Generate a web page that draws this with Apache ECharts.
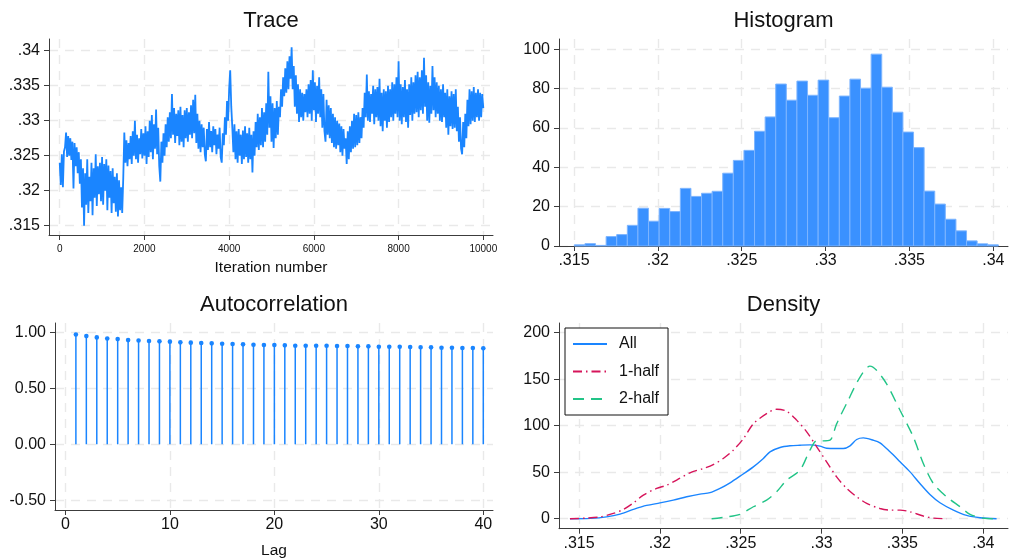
<!DOCTYPE html>
<html><head><meta charset="utf-8">
<script src="https://cdn.jsdelivr.net/npm/echarts@6/dist/echarts.min.js"></script>
<style>html,body{margin:0;padding:0;background:#fff}#c{width:1009px;height:560px}</style>
</head><body><div id="c"></div>
<script>
// ---------- DATA ----------
const traceStep = 25; // iterations between stored draws
const traceValues = [
.3240,.3208,.3252,.3205,.3256,.3262,.3283,.3248,.3278,.3250,.3275,.3244,.3270,.3203,.3268,.3235,.3262,.3225,.3255,.3210,
.3245,.3176,.3232,.3150,.3225,.3180,.3245,.3168,.3220,.3185,.3240,.3165,.3232,.3190,.3252,.3178,.3235,.3195,.3240,.3185,
.3248,.3180,.3238,.3200,.3245,.3172,.3236,.3190,.3228,.3168,.3232,.3182,.3220,.3170,.3225,.3163,.3215,.3172,.3205,.3168,
.3218,.3283,.3240,.3272,.3235,.3268,.3245,.3278,.3238,.3285,.3250,.3300,.3245,.3280,.3240,.3275,.3252,.3288,.3246,.3282,
.3250,.3292,.3238,.3285,.3248,.3300,.3255,.3308,.3245,.3295,.3260,.3316,.3252,.3290,.3235,.3213,.3270,.3240,.3282,.3250,
.3295,.3262,.3305,.3270,.3312,.3275,.3338,.3280,.3318,.3268,.3310,.3278,.3315,.3265,.3320,.3270,.3308,.3262,.3315,.3275,
.3318,.3270,.3312,.3280,.3322,.3275,.3330,.3282,.3337,.3268,.3310,.3260,.3300,.3255,.3295,.3262,.3290,.3252,.3242,.3288,
.3258,.3298,.3262,.3285,.3255,.3292,.3265,.3288,.3252,.3280,.3260,.3290,.3248,.3240,.3282,.3265,.3305,.3280,.3328,.3300,
.3345,.3372,.3320,.3290,.3255,.3295,.3245,.3285,.3240,.3288,.3250,.3280,.3238,.3286,.3245,.3292,.3248,.3282,.3240,.3290,
.3245,.3280,.3226,.3285,.3250,.3298,.3262,.3310,.3258,.3305,.3265,.3318,.3262,.3312,.3270,.3325,.3280,.3370,.3290,.3335,
.3270,.3325,.3261,.3318,.3275,.3328,.3280,.3320,.3305,.3345,.3320,.3362,.3335,.3375,.3340,.3385,.3345,.3392,.3360,.3405,
.3345,.3378,.3320,.3365,.3310,.3352,.3298,.3345,.3305,.3340,.3300,.3338,.3312,.3345,.3305,.3352,.3310,.3358,.3300,.3372,
.3315,.3355,.3298,.3350,.3310,.3362,.3305,.3345,.3290,.3338,.3285,.3270,.3330,.3280,.3322,.3275,.3318,.3268,.3310,.3262,
.3305,.3260,.3300,.3265,.3296,.3255,.3292,.3250,.3288,.3260,.3275,.3238,.3285,.3245,.3292,.3255,.3300,.3260,.3310,.3262,
.3308,.3265,.3312,.3268,.3305,.3275,.3318,.3290,.3340,.3305,.3366,.3300,.3342,.3298,.3338,.3310,.3350,.3295,.3345,.3305,
.3348,.3300,.3360,.3292,.3340,.3285,.3345,.3300,.3342,.3290,.3350,.3298,.3345,.3305,.3355,.3300,.3352,.3310,.3362,.3305,
.3385,.3300,.3352,.3295,.3348,.3305,.3358,.3298,.3345,.3290,.3352,.3308,.3362,.3300,.3355,.3310,.3365,.3312,.3370,.3305,
.3362,.3315,.3372,.3310,.3390,.3320,.3365,.3300,.3355,.3297,.3350,.3310,.3378,.3315,.3362,.3305,.3355,.3310,.3350,.3300,
.3345,.3298,.3352,.3305,.3340,.3290,.3345,.3280,.3335,.3292,.3342,.3288,.3338,.3290,.3345,.3285,.3320,.3270,.3305,.3260,
.3252,.3298,.3262,.3310,.3275,.3330,.3292,.3345,.3295,.3342,.3300,.3348,.3298,.3340,.3305,.3345,.3300,.3340,.3305,.3338,
.3318
];
const traceXTicks = [0, 2000, 4000, 6000, 8000, 10000];
const traceYTicks = [.315, .32, .325, .33, .335, .34];

const histStart = .31502;
const histBinWidth = .000632;
const histDensity = [0.6,1.2,0.3,4.8,5.8,10.5,19.2,12.6,19.1,17.5,29.3,25.2,26.8,27.8,37.0,43.5,48.6,58.3,65.6,82.3,
74.1,83.8,76.6,84.3,65.2,76.2,84.8,80.2,97.5,80.7,68.0,57.9,50.0,27.9,21.3,13.6,7.7,2.6,1.1,0.6];
const histXTicks = [.315, .32, .325, .33, .335, .34];
const histYTicks = [0, 20, 40, 60, 80, 100];

const acfLags = [1,2,3,4,5,6,7,8,9,10,11,12,13,14,15,16,17,18,19,20,21,22,23,24,25,26,27,28,29,30,31,32,33,34,35,36,37,38,39,40];
const acfValues = [.982,.968,.956,.947,.941,.932,.929,.924,.921,.918,.912,.909,.906,.903,.900,.897,.894,.891,.888,.888,
.885,.882,.882,.882,.881,.879,.879,.876,.876,.873,.873,.872,.870,.868,.867,.864,.864,.862,.861,.859];
const acfXTicks = [0, 10, 20, 30, 40];
const acfYTicks = [-0.5, 0, 0.5, 1];

const densAll = [[.31444,0],[.3157,0.4],[.3167,2],[.31754,5],[.31836,10],[.31918,14.3],[.32001,17],[.32083,20],[.32166,23.6],
[.32248,26.5],[.3231,28],[.32372,32.6],[.32434,38.6],[.32496,45.8],[.32578,55.8],[.3264,64.8],[.32681,71.9],[.32743,76.6],
[.32805,78.4],[.32866,79],[.32928,79.4],[.3299,78],[.33031,75.8],[.33093,75.5],[.33134,75.5],[.33176,78.4],[.33217,85.2],
[.33258,86.9],[.3332,84.4],[.33361,81.6],[.33423,71.9],[.33485,61.2],[.33547,50.4],[.33608,37.9],[.3367,26.1],[.33732,17.2],
[.33815,9.3],[.33897,3.6],[.3398,1.1],[.34082,0]];
const densHalf1 = [[.31444,0],[.31547,0.7],[.3163,2],[.31712,5.7],[.31774,10],[.31836,17],[.31898,25.4],[.3198,32.6],[.32042,36],
[.32104,41.5],[.32186,49.4],[.32268,54],[.3233,58.3],[.32392,64.8],[.32454,73.7],[.32516,86],[.32578,102],[.3266,113],
[.32722,117.7],[.32784,115.6],[.32846,106],[.32908,93.4],[.3297,77.3],[.33031,61.2],[.33093,45],[.33155,32.6],[.33217,23.6],
[.33279,16.5],[.33361,11],[.33423,9.3],[.33485,9.3],[.33547,7.5],[.33629,2.9],[.33691,0.7],[.33773,0]];
const densHalf2 = [[.3232,0],[.32413,2],[.32495,4.7],[.32578,12.9],[.3266,20],[.32722,29],[.32784,41.5],[.32866,52.2],[.32928,73.7],
[.3297,83.7],[.3301,83.7],[.33052,84.4],[.33093,102],[.33155,124],[.33237,152],[.33299,164],[.3334,159.5],[.33402,145],
[.33485,116.6],[.33567,88],[.33629,59.4],[.33691,37.9],[.33773,23.6],[.33856,12.9],[.33918,4.7],[.34,0.7],[.34082,0]];
const densXTicks = [.315, .32, .325, .33, .335, .34];
const densYTicks = [0, 50, 100, 150, 200];

const titles = ['Trace', 'Histogram', 'Autocorrelation', 'Density'];
const seriesNames = ['All', '1-half', '2-half'];

// ---------- STYLE / BUILD ----------
const FONT = '"Liberation Sans", Arial, Helvetica, sans-serif';
const BLUE = '#1a85ff', RED = '#d6145a', GREEN = '#22c487';
const AXC = '#3c3c3c';
const dot = v => String(v).replace(/^0\./, '.').replace(/^-0\./, '-.');

function axis(o) {
  return {
    type: 'value', gridIndex: o.g, min: o.min, max: o.max, position: o.pos,
    axisLine: { show: true, onZero: false, lineStyle: { color: AXC, width: 1 } },
    axisTick: { show: true, length: 5, inside: false, customValues: o.ticks, lineStyle: { color: AXC, width: 1 } },
    axisLabel: { show: true, customValues: o.ticks, formatter: o.fmt, fontSize: o.fs, color: '#111',
      margin: o.margin, fontFamily: FONT, hideOverlap: false },
    splitLine: { show: true, lineStyle: { color: '#e9e9e9', width: 1.4, type: [9, 7] } },
    name: o.name || '', nameLocation: 'middle', nameGap: o.nameGap || 0,
    nameTextStyle: { fontSize: 15.5, color: '#111', fontFamily: FONT }
  };
}

const traceData = traceValues.map((v, i) => [i * traceStep, v]);
const histData = histDensity.map((h, i) => [histStart + i * histBinWidth, histStart + (i + 1) * histBinWidth, h]);
const acfData = acfLags.map((l, i) => [l, acfValues[i]]);

const option = {
  backgroundColor: '#fff',
  animation: false,
  textStyle: { fontFamily: FONT },
  grid: [
    { left: 49, top: 39, width: 444, height: 196 },
    { left: 559, top: 39, width: 449, height: 207 },
    { left: 55, top: 323, width: 438, height: 189.5 },
    { left: 559, top: 323, width: 449, height: 205.7 }
  ],
  xAxis: [
    axis({ g: 0, pos: 'bottom', min: -253, max: 10229, ticks: traceXTicks, fmt: v => String(v), fs: 10, margin: 9, name: 'Iteration number', nameGap: 25 }),
    axis({ g: 1, pos: 'bottom', min: .314106, max: .340876, ticks: histXTicks, fmt: dot, fs: 16, margin: 7 }),
    axis({ g: 2, pos: 'bottom', min: -1.0, max: 40.93, ticks: acfXTicks, fmt: v => String(v), fs: 16, margin: 7, name: 'Lag', nameGap: 33 }),
    axis({ g: 3, pos: 'bottom', min: .313763, max: .341527, ticks: densXTicks, fmt: dot, fs: 16, margin: 7 })
  ],
  yAxis: [
    axis({ g: 0, pos: 'left', min: .313667, max: .341667, ticks: traceYTicks, fmt: dot, fs: 16, margin: 9 }),
    axis({ g: 1, pos: 'left', min: 0, max: 105.2, ticks: histYTicks, fmt: v => String(v), fs: 16, margin: 9 }),
    axis({ g: 2, pos: 'left', min: -0.588, max: 1.085, ticks: acfYTicks, fmt: v => v.toFixed(2), fs: 16, margin: 9 }),
    axis({ g: 3, pos: 'left', min: -10.7, max: 210.4, ticks: densYTicks, fmt: v => String(v), fs: 16, margin: 9 })
  ],
  legend: {
    data: seriesNames, orient: 'vertical', left: 565, top: 328,
    itemWidth: 34, itemHeight: 14, itemGap: 11.5, padding: [8, 9, 8, 7],
    borderColor: '#111', borderWidth: 1, borderRadius: 0, backgroundColor: '#fff',
    itemStyle: { opacity: 0, borderWidth: 0 },
    textStyle: { fontSize: 16, color: '#111', fontFamily: FONT, padding: [0, 0, 0, 7] },
    selectedMode: false
  },
  graphic: titles.map((t, i) => ({
    type: 'text', x: [271, 783.5, 274, 783.5][i], y: [21, 21, 305, 305][i],
    style: { text: t, fill: '#111', font: '22px ' + FONT, textAlign: 'center', textVerticalAlign: 'middle' }
  })),
  series: [
    { type: 'line', xAxisIndex: 0, yAxisIndex: 0, data: traceData, symbol: 'none',
      lineStyle: { color: BLUE, width: 1.8 }, silent: true },
    { type: 'custom', xAxisIndex: 1, yAxisIndex: 1, data: histData, silent: true,
      renderItem: function (params, api) {
        const p0 = api.coord([api.value(0), api.value(2)]);
        const p1 = api.coord([api.value(1), 0]);
        return { type: 'rect', shape: { x: p0[0], y: p0[1], width: p1[0] - p0[0], height: p1[1] - p0[1] },
          style: { fill: '#3a91ff', stroke: '#7db5ff', lineWidth: 1 } };
      } },
    { type: 'custom', xAxisIndex: 2, yAxisIndex: 2, data: acfData, silent: true,
      renderItem: function (params, api) {
        const top = api.coord([api.value(0), api.value(1)]);
        const base = api.coord([api.value(0), 0]);
        return { type: 'group', children: [
          { type: 'line', shape: { x1: base[0], y1: base[1], x2: top[0], y2: top[1] }, style: { stroke: BLUE, lineWidth: 1.5 } },
          { type: 'circle', shape: { cx: top[0], cy: top[1], r: 2.3 }, style: { fill: BLUE } }
        ] };
      } },
    { name: 'All', type: 'line', xAxisIndex: 3, yAxisIndex: 3, data: densAll, symbol: 'none', smooth: 0.3,
      lineStyle: { color: BLUE, width: 1.4 }, itemStyle: { color: BLUE }, silent: true },
    { name: '1-half', type: 'line', xAxisIndex: 3, yAxisIndex: 3, data: densHalf1, symbol: 'none', smooth: 0.3,
      lineStyle: { color: RED, width: 1.4, type: [9, 4, 1.5, 4] }, itemStyle: { color: RED }, silent: true },
    { name: '2-half', type: 'line', xAxisIndex: 3, yAxisIndex: 3, data: densHalf2, symbol: 'none', smooth: 0.3,
      lineStyle: { color: GREEN, width: 1.4, type: [11, 7] }, itemStyle: { color: GREEN }, silent: true }
  ]
};
const chart = echarts.init(document.getElementById('c'), null, { renderer: 'canvas' });
chart.setOption(option);
</script></body></html>
